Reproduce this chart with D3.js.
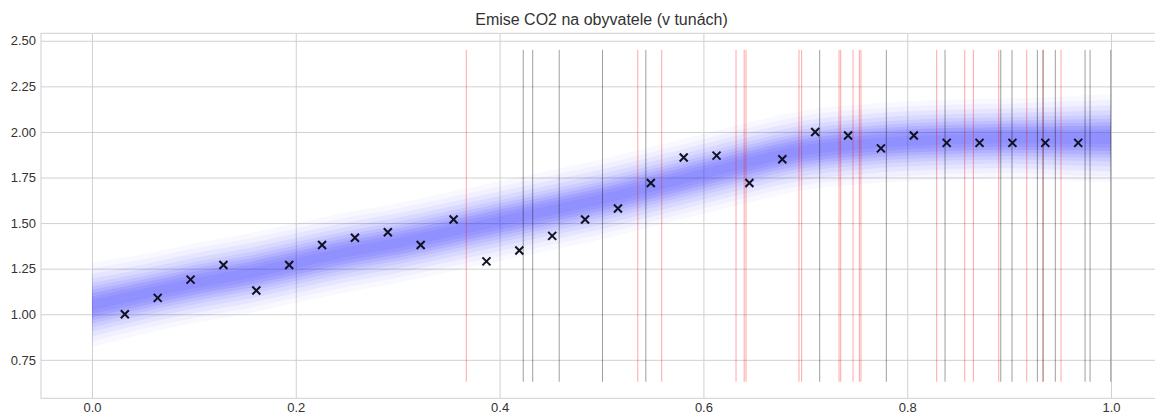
<!DOCTYPE html>
<html>
<head>
<meta charset="utf-8">
<script src="https://cdn.jsdelivr.net/npm/d3@7"></script>
<style>
  html, body { margin: 0; padding: 0; background: #fff; }
  svg { display: block; font-family: "Liberation Sans", Arial, sans-serif; }
</style>
</head>
<body>
<svg id="chart" width="1155" height="416"></svg>
<script>
// ---- data ----
const title = "Emise CO2 na obyvatele (v tunách)";
const obsX = [1,2,3,4,5,6,7,8,9,10,11,12,13,14,15,16,17,18,19,20,21,22,23,24,25,26,27,28,29,30].map(i => i / 31);
const obsY = [1.00, 1.09, 1.19, 1.27, 1.13, 1.27, 1.38, 1.42, 1.45, 1.38,
              1.52, 1.29, 1.35, 1.43, 1.52, 1.58, 1.72, 1.86, 1.87, 1.72,
              1.85, 2.00, 1.98, 1.91, 1.98, 1.94, 1.94, 1.94, 1.94, 1.94];

// posterior band: center and spread (half width of the visible halo) read at these x positions
const bandX      = [0, 0.05, 0.1, 0.15, 0.2, 0.25, 0.3, 0.35, 0.4, 0.45, 0.5, 0.55, 0.6, 0.65, 0.7, 0.75, 0.8, 0.85, 0.9, 0.95, 1.0];
const bandMid    = [1.05, 1.11, 1.17, 1.22, 1.28, 1.34, 1.39, 1.45, 1.51, 1.57, 1.63, 1.70, 1.77, 1.84, 1.90, 1.93, 1.95, 1.96, 1.965, 1.965, 1.965];
const bandSpread = [0.20, 0.19, 0.19, 0.19, 0.19, 0.19, 0.19, 0.19, 0.19, 0.19, 0.19, 0.19, 0.19, 0.19, 0.19, 0.19, 0.19, 0.19, 0.19, 0.20, 0.21];

// vertical marker lines
const redLines   = [0.3673, 0.5356, 0.5591, 0.6320, 0.6400, 0.6418, 0.6938, 0.6964, 0.7331, 0.7347, 0.7468, 0.7530, 0.7546,
                    0.8289, 0.8564, 0.8649, 0.8898, 0.9173, 0.9333, 0.9509];
const blackLines = [0.4232, 0.4325, 0.4585, 0.5010, 0.5435, 0.7141, 0.7795, 0.8371, 0.8918, 0.9028, 0.9277, 0.9333,
                    0.9453, 0.9745, 0.9794, 0.9997];
const vlineRange = [0.63, 2.45];

const xTicks = [0.0, 0.2, 0.4, 0.6, 0.8, 1.0];
const yTicks = [0.75, 1.00, 1.25, 1.50, 1.75, 2.00, 2.25, 2.50];

// ---- layout ----
const svg = d3.select("#chart");
const L = 41, R = 1162, T = 33.3, B = 398.3;
const x = d3.scaleLinear().domain([-0.05, 1.05]).range([L, R]);
const y = d3.scaleLinear().domain([0.539, 2.541]).range([B, T]);
const gridColor = "#d0d0d0";
const textColor = "#333333";

svg.append("defs").append("clipPath").attr("id", "clip")
  .append("rect").attr("x", L).attr("y", T).attr("width", R - L).attr("height", B - T);

// grid + ticks
const gx = svg.append("g").attr("transform", `translate(0,${B})`)
  .call(d3.axisBottom(x).tickValues(xTicks).tickSize(-(B - T)).tickPadding(4).tickFormat(d3.format(".1f")));
const gy = svg.append("g").attr("transform", `translate(${L},0)`)
  .call(d3.axisLeft(y).tickValues(yTicks).tickSize(-(R - L)).tickPadding(5).tickFormat(d3.format(".2f")));
[gx, gy].forEach(g => {
  g.select(".domain").remove();
  g.selectAll(".tick line").attr("stroke", gridColor).attr("stroke-width", 1);
  g.selectAll(".tick text").attr("fill", textColor).style("font-size", "13px")
    .style("font-family", '"Liberation Sans", Arial, sans-serif');
});

svg.append("rect").attr("x", L).attr("y", T).attr("width", R - L).attr("height", B - T)
  .attr("fill", "none").attr("stroke", gridColor).attr("stroke-width", 1);

const plot = svg.append("g").attr("clip-path", "url(#clip)");

// band: stacked translucent layers giving a soft halo
const bandData = bandX.map((bx, i) => ({ x: bx, m: bandMid[i], s: bandSpread[i] }));
const layerFactor  = [1.15, 1.00, 0.86, 0.73, 0.61, 0.51, 0.42, 0.33, 0.24, 0.14];
const layerOpacity = [0.03, 0.04, 0.05, 0.06, 0.07, 0.08, 0.09, 0.10, 0.09, 0.07];
layerFactor.forEach((f, k) => {
  const area = d3.area()
    .x(d => x(d.x))
    .y0(d => y(d.m - d.s * f))
    .y1(d => y(d.m + d.s * f))
    .curve(d3.curveMonotoneX);
  plot.append("path").datum(bandData).attr("d", area)
    .attr("fill", "rgb(40,40,250)").attr("fill-opacity", layerOpacity[k]);
});

// vertical lines
plot.selectAll("line.red").data(redLines).enter().append("line")
  .attr("class", "red")
  .attr("x1", d => x(d)).attr("x2", d => x(d))
  .attr("y1", y(vlineRange[0])).attr("y2", y(vlineRange[1]))
  .attr("stroke", "red").attr("stroke-opacity", 0.35).attr("stroke-width", 1);
plot.selectAll("line.blk").data(blackLines).enter().append("line")
  .attr("class", "blk")
  .attr("x1", d => x(d)).attr("x2", d => x(d))
  .attr("y1", y(vlineRange[0])).attr("y2", y(vlineRange[1]))
  .attr("stroke", "black").attr("stroke-opacity", 0.38).attr("stroke-width", 1);

// observation crosses
const s = 4;
const pts = plot.selectAll("g.pt").data(obsX.map((ox, i) => [ox, obsY[i]])).enter().append("g")
  .attr("class", "pt")
  .attr("transform", d => `translate(${x(d[0])},${y(d[1])})`);
pts.append("path")
  .attr("d", `M${-s},${-s}L${s},${s}M${-s},${s}L${s},${-s}`)
  .attr("stroke", "#111122").attr("stroke-width", 2).attr("fill", "none");

// title
svg.append("text").attr("x", (L + R) / 2).attr("y", 25)
  .attr("text-anchor", "middle").attr("fill", textColor)
  .style("font-size", "16px").text(title);
</script>
</body>
</html>
